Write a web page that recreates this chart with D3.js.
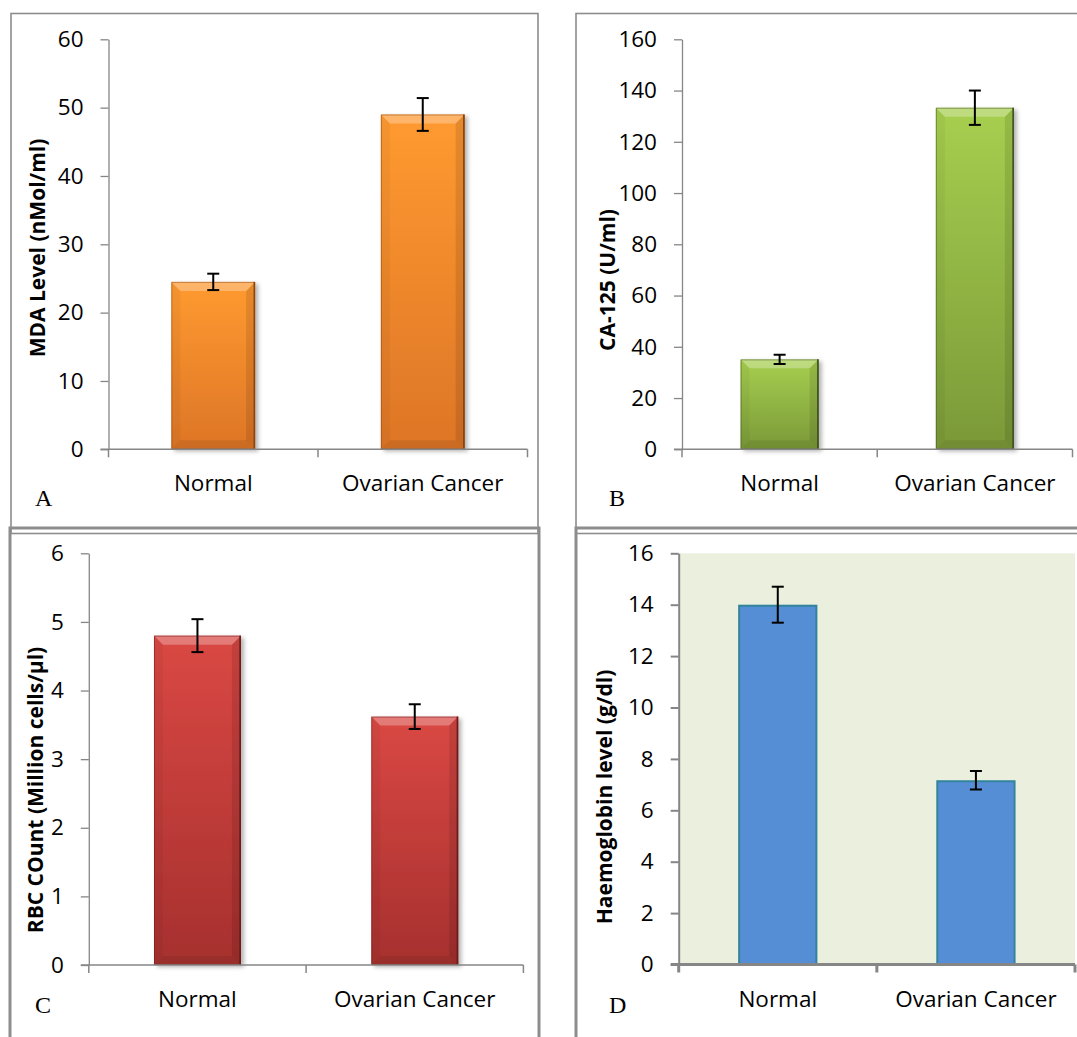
<!DOCTYPE html>
<meta charset="utf-8">
<script src="https://d3js.org/d3.v7.min.js"></script>
<style>
  body { margin: 0; background: #fff; }
  text { font-family: "Open Sans", sans-serif; }
</style>
<div id="chart"></div>
<script>

// data
var categories = ["Normal", "Ovarian Cancer"];

var mdaValues = [24.5, 49.0];
var mdaErrors = [1.2, 2.4];

var ca125Values = [35.1, 133.3];
var ca125Errors = [1.8, 6.7];

var rbcValues = [4.8, 3.62];
var rbcErrors = [0.24, 0.18];

var hbValues = [14.0, 7.17];
var hbErrors = [0.7, 0.36];

var mdaTicks = [0, 10, 20, 30, 40, 50, 60];
var ca125Ticks = [0, 20, 40, 60, 80, 100, 120, 140, 160];
var rbcTicks = [0, 1, 2, 3, 4, 5, 6];
var hbTicks = [0, 2, 4, 6, 8, 10, 12, 14, 16];

var svg = d3.select("#chart")
  .append("svg")
    .attr("width", 1077)
    .attr("height", 1037);

var defs = svg.append("defs");

var shadow = defs.append("filter")
    .attr("id", "shadow")
    .attr("x", "-20%").attr("y", "-10%")
    .attr("width", "150%").attr("height", "130%");
shadow.append("feDropShadow")
    .attr("dx", 3).attr("dy", 2)
    .attr("stdDeviation", 2.2)
    .attr("flood-color", "#000")
    .attr("flood-opacity", 0.3);

function gradient(id, top, bottom) {
  var g = defs.append("linearGradient")
      .attr("id", id)
      .attr("x1", 0).attr("y1", 0).attr("x2", 0).attr("y2", 1);
  g.append("stop").attr("offset", "0%").attr("stop-color", top);
  g.append("stop").attr("offset", "100%").attr("stop-color", bottom);
}
gradient("gradA", "#ff9a30", "#dd7527");
gradient("gradB", "#a7cf4f", "#7a9938");
gradient("gradC", "#da4844", "#a6302e");

// panel frames (drawn first, lower panels overlap the shared edge)
function frame(x, y, w, h, sw) {
  svg.append("rect")
    .attr("x", x).attr("y", y)
    .attr("width", w).attr("height", h)
    .attr("fill", "none")
    .attr("stroke", "#8d8d8d")
    .attr("stroke-width", sw);
}
frame(11, 13.5, 527, 520, 1.6);
frame(576, 13.5, 520, 520, 1.6);
frame(10, 528, 529, 520, 3);
frame(576, 528, 520, 520, 3);

var panels = [
  { values: mdaValues, errors: mdaErrors, ticks: mdaTicks,
    title: "MDA Level (nMol/ml)", letter: "A",
    left: 108.5, right: 527.5, top: 39.3, bottom: 449.3,
    titleX: 37, titleY: 248, letterX: 35, letterY: 506,
    fill: "url(#gradA)", edge: "#8a4412", bevel: true },
  { values: ca125Values, errors: ca125Errors, ticks: ca125Ticks,
    title: "CA-125 (U/ml)", letter: "B",
    left: 682, right: 1072.5, top: 39.3, bottom: 449.3,
    titleX: 607, titleY: 280, letterX: 609, letterY: 506,
    fill: "url(#gradB)", edge: "#3f5220", bevel: true },
  { values: rbcValues, errors: rbcErrors, ticks: rbcTicks,
    title: "RBC COunt (Million cells/\u00b5l)", letter: "C",
    left: 88.8, right: 523.4, top: 553.3, bottom: 965,
    titleX: 34.5, titleY: 790, letterX: 35, letterY: 1013,
    fill: "url(#gradC)", edge: "#6b1c1a", bevel: true },
  { values: hbValues, errors: hbErrors, ticks: hbTicks,
    title: "Haemoglobin level (g/dl)", letter: "D",
    left: 678.7, right: 1075, top: 553.3, bottom: 964.5,
    titleX: 603.5, titleY: 797, letterX: 609, letterY: 1013,
    fill: "#558ed5", edge: "#31849b", bevel: false, bg: "#ebf0de" }
];

panels.forEach(function(p) {
  var g = svg.append("g");

  var x = d3.scaleBand()
      .domain(categories)
      .range([p.left, p.right])
      .paddingInner(0.6)
      .paddingOuter(0.3);

  var y = d3.scaleLinear()
      .domain([0, d3.max(p.ticks)])
      .range([p.bottom, p.top]);

  if (p.bg) {
    g.append("rect")
      .attr("x", p.left).attr("y", p.top)
      .attr("width", p.right - p.left).attr("height", p.bottom - p.top)
      .attr("fill", p.bg);
  }

  var axisW = p.bevel ? 1.3 : 2;

  // y axis
  var yAxis = g.append("g")
      .attr("transform", "translate(" + p.left + ",0)")
      .call(d3.axisLeft(y)
        .tickValues(p.ticks)
        .tickFormat(d3.format("d"))
        .tickSize(8).tickSizeOuter(0).tickPadding(17));
  yAxis.select(".domain").attr("stroke", "#868686").attr("stroke-width", axisW);
  yAxis.selectAll(".tick line").attr("stroke", "#868686").attr("stroke-width", axisW);
  yAxis.selectAll(".tick text")
      .attr("fill", "#000")
      .style("font-size", "22.5px")
      .style("font-family", "'Open Sans', sans-serif");

  // bars
  var bars = g.selectAll(".bar")
    .data(p.values)
    .enter()
    .append("g");

  bars.each(function(v, i) {
    var bx = x(categories[i]), bw = x.bandwidth();
    var by = y(v), bh = y(0) - y(v);
    var el = d3.select(this);
    if (p.bevel) {
      var b = 9;
      var bar = el.append("g").attr("filter", "url(#shadow)");
      bar.append("rect")
        .attr("x", bx).attr("y", by).attr("width", bw).attr("height", bh)
        .attr("fill", p.fill);
      // bevel faces
      var faces = [
        { pts: [[bx, by], [bx + bw, by], [bx + bw - b, by + b], [bx + b, by + b]], c: "#fff", o: 0.28 },
        { pts: [[bx, by], [bx + b, by + b], [bx + b, by + bh - b], [bx, by + bh]], c: "#000", o: 0.04 },
        { pts: [[bx + bw, by], [bx + bw - b, by + b], [bx + bw - b, by + bh - b], [bx + bw, by + bh]], c: "#000", o: 0.1 },
        { pts: [[bx, by + bh], [bx + b, by + bh - b], [bx + bw - b, by + bh - b], [bx + bw, by + bh]], c: "#000", o: 0.08 }
      ];
      faces.forEach(function(f) {
        el.append("polygon")
          .attr("points", f.pts.map(function(q) { return q.join(","); }).join(" "))
          .attr("fill", f.c)
          .attr("fill-opacity", f.o);
      });
      el.append("rect")
        .attr("x", bx + 0.5).attr("y", by + 0.5).attr("width", bw - 1).attr("height", bh - 1)
        .attr("fill", "none")
        .attr("stroke", p.edge)
        .attr("stroke-opacity", 0.5)
        .attr("stroke-width", 1);
      el.append("line")
        .attr("x1", bx + bw - 0.8).attr("x2", bx + bw - 0.8)
        .attr("y1", by).attr("y2", by + bh)
        .attr("stroke", p.edge)
        .attr("stroke-width", 1.6);
    } else {
      el.append("rect")
        .attr("x", bx + 1).attr("y", by + 1).attr("width", bw - 2).attr("height", bh - 1)
        .attr("fill", p.fill)
        .attr("stroke", p.edge)
        .attr("stroke-width", 2);
    }
  });

  // x axis with ticks at the category boundaries
  var step = x.step();
  var bounds = [p.left, p.left + step, p.right];
  g.append("line")
    .attr("x1", p.left - 8).attr("x2", p.right)
    .attr("y1", p.bottom).attr("y2", p.bottom)
    .attr("stroke", "#868686")
    .attr("stroke-width", p.bevel ? 1.5 : 3);
  g.selectAll(".xtick")
    .data(bounds)
    .enter()
    .append("line")
      .attr("x1", function(d) { return d; })
      .attr("x2", function(d) { return d; })
      .attr("y1", p.bottom)
      .attr("y2", p.bottom + 8)
      .attr("stroke", "#868686")
      .attr("stroke-width", p.bevel ? 1.5 : 3);

  g.selectAll(".xlabel")
    .data(categories)
    .enter()
    .append("text")
      .attr("x", function(d) { return x(d) + x.bandwidth() / 2; })
      .attr("y", p.bottom + 42)
      .attr("text-anchor", "middle")
      .style("font-size", "22.5px")
      .text(function(d) { return d; });

  // error bars
  var eb = g.selectAll(".err")
    .data(p.values)
    .enter()
    .append("g")
      .attr("stroke", "#000")
      .attr("stroke-width", 2);
  eb.append("line")
    .attr("x1", function(d, i) { return x(categories[i]) + x.bandwidth() / 2; })
    .attr("x2", function(d, i) { return x(categories[i]) + x.bandwidth() / 2; })
    .attr("y1", function(d, i) { return y(d + p.errors[i]); })
    .attr("y2", function(d, i) { return y(d - p.errors[i]); });
  [1, -1].forEach(function(s) {
    eb.append("line")
      .attr("x1", function(d, i) { return x(categories[i]) + x.bandwidth() / 2 - 6; })
      .attr("x2", function(d, i) { return x(categories[i]) + x.bandwidth() / 2 + 6; })
      .attr("y1", function(d, i) { return y(d + s * p.errors[i]); })
      .attr("y2", function(d, i) { return y(d + s * p.errors[i]); });
  });

  // axis title
  g.append("text")
    .attr("transform", "translate(" + p.titleX + "," + p.titleY + ") rotate(-90)")
    .attr("text-anchor", "middle")
    .attr("dominant-baseline", "central")
    .style("font-size", "21px")
    .style("font-weight", "bold")
    .text(p.title);

  // panel letter
  g.append("text")
    .attr("x", p.letterX)
    .attr("y", p.letterY)
    .style("font-family", "'Liberation Serif', serif")
    .style("font-size", "24px")
    .text(p.letter);
});

</script>
